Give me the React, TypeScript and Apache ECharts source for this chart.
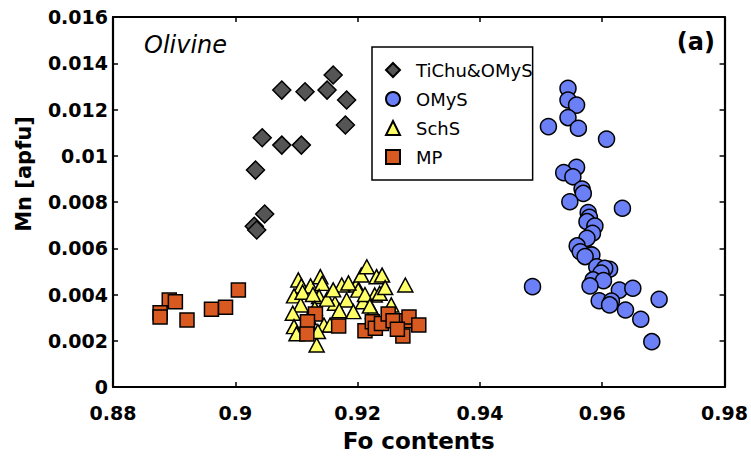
import React, { useEffect, useRef } from "react";
import * as echarts from "echarts";

const xTicks = [0.88, 0.9, 0.92, 0.94, 0.96, 0.98];
const yTicks = [0, 0.002, 0.004, 0.006, 0.008, 0.01, 0.012, 0.014, 0.016];

const tichuOmys: number[][] = [
  [0.916, 0.01349], [0.9076, 0.01284], [0.9114, 0.01277], [0.915, 0.01284],
  [0.9182, 0.01241], [0.918, 0.01133], [0.9044, 0.01078], [0.9076, 0.01046],
  [0.9108, 0.01046], [0.9033, 0.00938], [0.9048, 0.00748], [0.9031, 0.00695],
  [0.9035, 0.00679],
];

const omys: number[][] = [
  [0.9544, 0.01292], [0.9544, 0.01241], [0.9558, 0.01219], [0.9544, 0.01165],
  [0.9512, 0.01126], [0.9561, 0.01119], [0.9607, 0.01072], [0.9558, 0.0095],
  [0.9537, 0.00927], [0.9552, 0.00909], [0.9567, 0.00856], [0.9569, 0.00837],
  [0.9547, 0.00801], [0.9633, 0.00773], [0.9577, 0.00754], [0.9579, 0.00734],
  [0.9575, 0.00715], [0.9588, 0.00696], [0.9584, 0.00665], [0.9575, 0.00643],
  [0.9559, 0.0061], [0.9564, 0.00585], [0.9583, 0.00571], [0.9572, 0.00564],
  [0.9591, 0.0052], [0.9612, 0.00509], [0.9604, 0.00513], [0.9598, 0.00493],
  [0.9585, 0.00463], [0.9602, 0.0046], [0.958, 0.00437], [0.9486, 0.00434],
  [0.9628, 0.00419], [0.965, 0.00427], [0.9693, 0.00379], [0.9595, 0.00373],
  [0.9615, 0.00372], [0.9612, 0.00355], [0.9638, 0.00333], [0.9663, 0.00293],
  [0.9681, 0.00196],
];

const schs: number[][] = [
  [0.9103, 0.00463], [0.9108, 0.00437], [0.9096, 0.00394], [0.9123, 0.00437],
  [0.9139, 0.00477], [0.9142, 0.00448], [0.9137, 0.00391], [0.9107, 0.00355],
  [0.9094, 0.00319], [0.9096, 0.00261], [0.9118, 0.00283], [0.9145, 0.00268],
  [0.9133, 0.00182], [0.9174, 0.00441], [0.9163, 0.00362], [0.9182, 0.00376],
  [0.9198, 0.00441], [0.9206, 0.00484], [0.9215, 0.0052], [0.9201, 0.00419],
  [0.9209, 0.00369], [0.9193, 0.00326], [0.9231, 0.00477], [0.924, 0.00484],
  [0.9228, 0.00398], [0.9236, 0.00405], [0.9255, 0.00355], [0.9225, 0.00326],
  [0.9278, 0.00441], [0.9155, 0.00268], [0.911, 0.0041], [0.9127, 0.004],
  [0.915, 0.0038], [0.917, 0.0033], [0.912, 0.003], [0.9185, 0.0045],
  [0.9212, 0.004], [0.9245, 0.0043], [0.91, 0.0023], [0.913, 0.0034],
  [0.916, 0.0042], [0.922, 0.0035], [0.9135, 0.0024],
];

const mp: number[][] = [
  [0.8892, 0.00376], [0.8902, 0.00369], [0.8877, 0.00321], [0.8877, 0.00303],
  [0.8921, 0.0029], [0.8961, 0.00336], [0.8984, 0.00345], [0.9005, 0.00419],
  [0.9131, 0.00316], [0.9118, 0.00282], [0.9117, 0.00229], [0.9169, 0.00264],
  [0.9212, 0.00243], [0.9224, 0.00282], [0.9229, 0.00254], [0.9239, 0.00275],
  [0.925, 0.00316], [0.9258, 0.00287], [0.928, 0.00287], [0.9284, 0.00303],
  [0.93, 0.00268], [0.9274, 0.00221], [0.9265, 0.0025],
];

const FONT = "DejaVu Sans";
const fmt = (v: number) => String(+v.toFixed(3));

export default function App() {
  const ref = useRef<HTMLDivElement>(null);
  useEffect(() => {
    document.body.style.margin = "0";
    const chart = echarts.init(ref.current!, null, { renderer: "svg" });
    const axisCommon = {
      axisLine: { show: true, onZero: false, lineStyle: { color: "#000", width: 2.2 } },
      axisTick: { show: true, inside: true, length: 5, lineStyle: { color: "#000", width: 1.5 } },
      splitLine: { show: false },
    };
    const xBase = { type: "value", min: xTicks[0], max: xTicks[xTicks.length - 1], interval: 0.02 };
    const yBase = { type: "value", min: yTicks[0], max: yTicks[yTicks.length - 1], interval: 0.002 };
    chart.setOption({
      animation: false,
      backgroundColor: "#fff",
      grid: { left: 113, right: 18, top: 17, bottom: 74, containLabel: false },
      xAxis: [
        {
          ...xBase, ...axisCommon, position: "bottom",
          name: "Fo contents", nameLocation: "middle", nameGap: 42,
          nameTextStyle: { fontFamily: FONT, fontWeight: "bold", fontSize: 23, color: "#000" },
          axisLabel: { formatter: fmt, fontFamily: FONT, fontWeight: "bold", fontSize: 19, color: "#000", margin: 16 },
        },
        { ...xBase, ...axisCommon, position: "top", axisLabel: { show: false } },
      ],
      yAxis: [
        {
          ...yBase, ...axisCommon, position: "left",
          axisLabel: { formatter: fmt, fontFamily: FONT, fontWeight: "bold", fontSize: 19, color: "#000", margin: 5 },
        },
        { ...yBase, ...axisCommon, position: "right", axisLabel: { show: false } },
      ],
      legend: {
        orient: "vertical", left: 372, top: 47,
        padding: [13, 0, 13, 13], itemGap: 9,
        itemWidth: 14, itemHeight: 14,
        borderColor: "#000", borderWidth: 1.5, backgroundColor: "#fff",
        selectedMode: false,
        textStyle: { fontFamily: FONT, fontSize: 18, color: "#000", lineHeight: 20, padding: [0, 0, 0, 11] },
        data: ["TiChu&OMyS", "OMyS", "SchS", "MP"],
      },
      graphic: [
        { type: "text", left: 144, top: 33, style: { text: "Olivine", fontFamily: FONT, fontStyle: "italic", fontSize: 24, fill: "#000" } },
        { type: "text", right: 36, top: 30, style: { text: "(a)", fontFamily: FONT, fontWeight: "bold", fontSize: 24, fill: "#000" } },
        {
          type: "text", x: 24, y: 174, rotation: Math.PI / 2,
          style: { text: "Mn [apfu]", fontFamily: FONT, fontWeight: "bold", fontSize: 21, fill: "#000", align: "center", verticalAlign: "middle" },
        },
      ],
      series: [
        {
          name: "TiChu&OMyS", type: "scatter", data: tichuOmys, symbol: "diamond", symbolSize: 18,
          itemStyle: { color: "#555555", borderColor: "#000", borderWidth: 1.5, opacity: 1 },
        },
        {
          name: "OMyS", type: "scatter", data: omys, symbol: "circle", symbolSize: 16,
          itemStyle: { color: "#6b80f7", borderColor: "#000", borderWidth: 1.5, opacity: 1 },
        },
        {
          name: "SchS", type: "scatter", data: schs, symbol: "triangle", symbolSize: [15, 14],
          itemStyle: { color: "#ffff66", borderColor: "#000", borderWidth: 1.5, opacity: 1 },
        },
        {
          name: "MP", type: "scatter", data: mp, symbol: "rect", symbolSize: 14,
          itemStyle: { color: "#d85a20", borderColor: "#000", borderWidth: 1.5, opacity: 1 },
        },
      ],
    });
    return () => chart.dispose();
  }, []);
  return <div ref={ref} style={{ width: 751, height: 461 }} />;
}
